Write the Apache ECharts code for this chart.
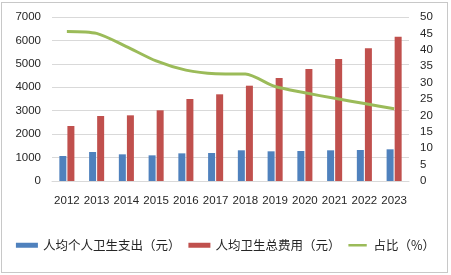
<!DOCTYPE html>
<html>
<head>
<meta charset="utf-8">
<script src="https://cdn.jsdelivr.net/npm/echarts@6/dist/echarts.min.js"></script>
<style>
  html, body { margin: 0; padding: 0; background: #fff; }
  #frame { position: absolute; left: 1px; top: 2px; width: 445px; height: 269px; border: 1px solid #c8c8c8; }
  #chart { position: absolute; left: 0; top: 0; width: 451px; height: 275px; }
</style>
</head>
<body>
<div id="frame"></div>
<div id="chart"></div>
<script>
// dados
var years = ['2012', '2013', '2014', '2015', '2016', '2017', '2018', '2019', '2020', '2021', '2022', '2023'];
var personalSpend = [1067, 1238, 1138, 1095, 1180, 1195, 1310, 1267, 1280, 1310, 1323, 1352];
var totalSpend = [2347, 2774, 2803, 3017, 3500, 3700, 4068, 4396, 4780, 5207, 5664, 6160];
var ratio = [45.6, 45.0, 41.0, 36.6, 33.8, 32.7, 32.6, 28.8, 26.9, 25.2, 23.6, 22.0];
var names = ['人均个人卫生支出（元）', '人均卫生总费用（元）', '占比（%）'];

var axisFont = { color: '#262626', fontSize: 11.5, fontFamily: 'Liberation Sans' };
// icone de linha fina: pontos quase invisiveis em cima/baixo so para fixar a caixa
var lineIcon = 'path://M0,0L0.01,0L0.01,0.01Z M0,1.6H22V4.4H0Z M0,6L0.01,6L0.01,5.99Z';

function plain(v) { return String(v); }

var chart = echarts.init(document.getElementById('chart'), null, { renderer: 'canvas' });
chart.setOption({
  animation: false,
  grid: { left: 52, right: 42, top: 17, bottom: 94 },
  legend: {
    left: 'center', top: 234,
    itemWidth: 22, itemHeight: 5, itemGap: 8,
    textStyle: { color: '#262626', fontSize: 12.5, fontFamily: 'Noto Sans CJK SC' },
    data: [
      { name: names[0], icon: 'rect' },
      { name: names[1], icon: 'rect' },
      { name: names[2], icon: lineIcon }
    ]
  },
  xAxis: {
    type: 'category', data: years,
    axisLine: { lineStyle: { color: '#d9d9d9' } },
    axisTick: { show: false },
    axisLabel: Object.assign({ margin: 14, interval: 0 }, axisFont)
  },
  yAxis: [
    {
      type: 'value', min: 0, max: 7000, interval: 1000,
      axisLabel: Object.assign({ margin: 11, formatter: plain }, axisFont),
      splitLine: { lineStyle: { color: '#d9d9d9' } }
    },
    {
      type: 'value', min: 0, max: 50, interval: 5,
      axisLabel: Object.assign({ margin: 11, formatter: plain }, axisFont),
      splitLine: { show: false }
    }
  ],
  series: [
    {
      name: names[0], type: 'bar', data: personalSpend,
      barWidth: 7, barGap: '15%',
      itemStyle: { color: '#4f81bd' }
    },
    {
      name: names[1], type: 'bar', data: totalSpend,
      barWidth: 7,
      itemStyle: { color: '#c0504d' }
    },
    {
      name: names[2], type: 'line', yAxisIndex: 1, data: ratio,
      smooth: 0.25, symbol: 'none',
      lineStyle: { width: 3, color: '#9bbb59' },
      itemStyle: { color: '#9bbb59' }
    }
  ]
});
</script>
</body>
</html>
